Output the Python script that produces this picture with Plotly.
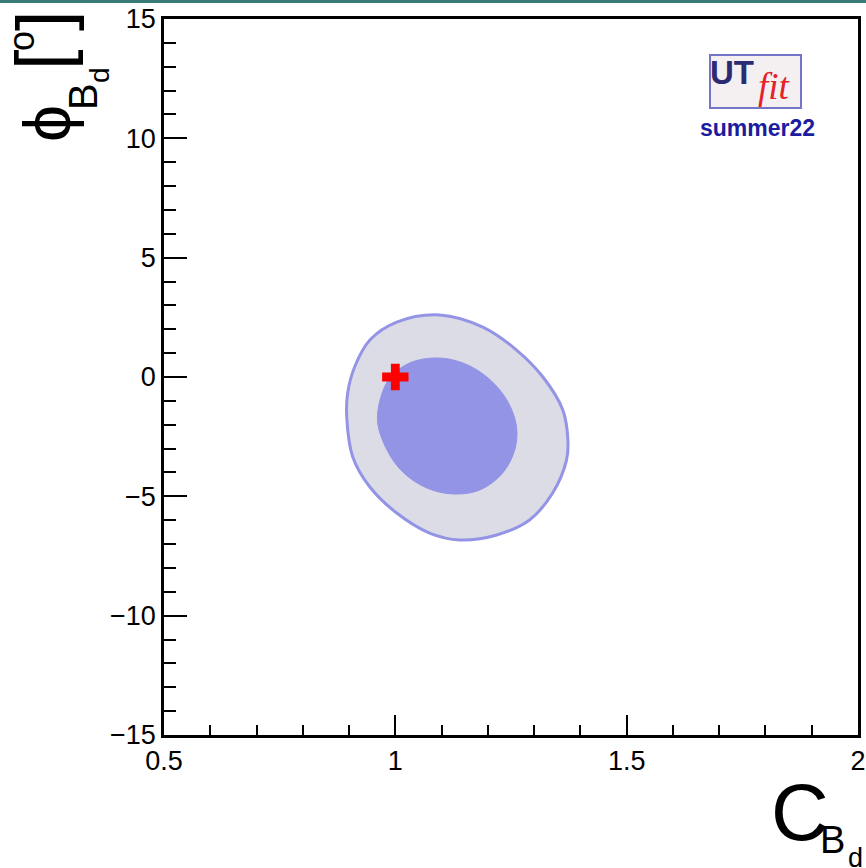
import plotly.graph_objects as go

# ---- data ----
outer_x = [1.096, 1.003, 0.945, 0.912, 0.897, 0.895, 0.908, 0.945, 1.003, 1.074, 1.139,
           1.219, 1.290, 1.340, 1.370, 1.373, 1.362, 1.319, 1.262, 1.189, 1.096]
outer_y = [2.60, 2.30, 1.55, 0.42, -0.67, -1.68, -3.35, -4.61, -5.70, -6.54, -6.83,
           -6.62, -5.99, -4.86, -3.48, -2.64, -1.38, 0.00, 1.13, 2.09, 2.60]
inner_x = [1.090, 1.031, 0.988, 0.967, 0.962, 0.982, 1.016, 1.068, 1.124, 1.183, 1.232,
           1.258, 1.262, 1.241, 1.198, 1.146, 1.090]
inner_y = [0.80, 0.59, -0.04, -0.96, -1.93, -3.06, -3.98, -4.65, -4.90, -4.73, -4.02,
           -3.06, -2.09, -0.96, 0.00, 0.59, 0.80]
sm_x = [1.0]
sm_y = [0.0]
x_ticks = [0.5, 1.0, 1.5, 2.0]
x_ticktext = ["0.5", "1", "1.5", "2"]
y_ticks = [-15, -10, -5, 0, 5, 10, 15]
y_ticktext = ["\u221215", "\u221210", "\u22125", "0", "5", "10", "15"]

W, H = 866, 868
L, R, T, B = 164, 8, 19, 133
PW, PH = W - L - R, H - T - B


def px(x):
    return (x - L) / PW


def py(y):
    return (H - B - y) / PH


FONT = "Liberation Sans, Arial, Helvetica, sans-serif"

fig = go.Figure()
fig.add_trace(go.Scatter(x=outer_x, y=outer_y, mode="lines", fill="toself",
                         fillcolor="#dcdce6", line=dict(color="#9494e6", width=3, shape="spline"),
                         hoverinfo="skip", showlegend=False))
fig.add_trace(go.Scatter(x=inner_x, y=inner_y, mode="lines", fill="toself",
                         fillcolor="#9494e6", line=dict(color="#9494e6", width=1, shape="spline"),
                         hoverinfo="skip", showlegend=False))
fig.add_trace(go.Scatter(x=sm_x, y=sm_y, mode="markers",
                         marker=dict(symbol="cross", size=22, color="#ff0000", line=dict(width=0)),
                         hoverinfo="skip", showlegend=False))

axis_common = dict(showgrid=False, zeroline=False, ticks="inside", tickwidth=2,
                   tickcolor="black", showline=True, linecolor="black", linewidth=2.5,
                   mirror=True, automargin=False,
                   tickfont=dict(family=FONT, size=27, color="black"))
fig.update_xaxes(range=[0.5, 2.0], tickvals=x_ticks, ticktext=x_ticktext, ticklen=20,
                 minor=dict(ticks="inside", ticklen=10, dtick=0.1, tickwidth=2,
                            tickcolor="black", showgrid=False),
                 **axis_common)
fig.update_yaxes(range=[-15, 15], tickvals=y_ticks, ticktext=y_ticktext, ticklen=23,
                 minor=dict(ticks="inside", ticklen=12, dtick=1, tickwidth=2,
                            tickcolor="black", showgrid=False),
                 **axis_common)

shapes = [
    dict(type="rect", xref="paper", yref="paper", x0=px(0), x1=px(W), y0=py(3), y1=py(0),
         fillcolor="#387a77", line=dict(width=0), layer="above"),
    dict(type="rect", xref="paper", yref="paper", x0=px(710), x1=px(801), y0=py(108), y1=py(55),
         fillcolor="#f4eff1", line=dict(color="#7474c8", width=2), layer="above"),
]

ann = []


def add_text(text, cx, cy, size, color="black", family=FONT, angle=0):
    ann.append(dict(text=text, xref="paper", yref="paper", x=px(cx), y=py(cy),
                    xanchor="center", yanchor="middle", showarrow=False, textangle=angle,
                    font=dict(family=family, size=size, color=color)))


# logo
add_text("<b>UT</b>", 732, 72, 33, color="#2b2b72")
add_text("<i>fit</i>", 774, 86, 37, color="#e3222a", family="Liberation Serif, DejaVu Serif, serif")
add_text("<b>summer22</b>", 757, 128, 23, color="#1c1ca0")

# x title: C_{B_d}
add_text("C", 800, 812, 80)
add_text("B", 832, 840, 38)
add_text("d", 855, 858, 27)

# y title: phi_{B_d} [o]
add_text("\u03d5", 47, 124, 66, angle=-90)
add_text("B", 83, 97, 40, angle=-90)
add_text("d", 99, 75, 28, angle=-90)
add_text("[", 43, 60, 74, angle=-90)
add_text("]", 43, 21, 74, angle=-90)
add_text("o", 21, 41, 36, angle=-90)

fig.update_layout(width=W, height=H, margin=dict(l=L, r=R, t=T, b=B, pad=0),
                  paper_bgcolor="white", plot_bgcolor="white",
                  shapes=shapes, annotations=ann, showlegend=False)

fig.write_html("out.html")
